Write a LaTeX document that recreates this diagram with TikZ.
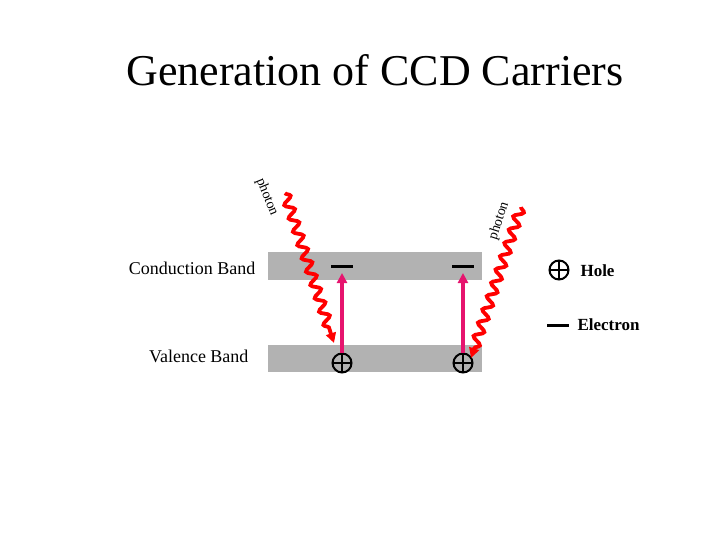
\documentclass[tikz,border=0pt]{standalone}
\usepackage{fontspec}
\setmainfont{Liberation Serif}
\usetikzlibrary{decorations.pathmorphing,arrows.meta}
\tikzset{
  band/.style={draw=none, fill=black!30},
  photon/.style={red, line width=3.8pt, decorate, decoration={snake, amplitude=4.5pt, segment length=14pt, post length=10pt}, -{Triangle[length=10pt,width=10pt]}},
  jump/.style={draw={rgb,255:red,230;green,20;blue,110}, line width=3.5pt, -{Triangle[length=10pt,width=10pt]}},
  hole/.style={circle, draw, line width=2pt, minimum size=19pt, inner sep=0pt, path picture={
      \draw[line width=2pt] (path picture bounding box.north) -- (path picture bounding box.south)
            (path picture bounding box.west) -- (path picture bounding box.east);}},
  lbl/.style={font=\fontsize{18}{20}\selectfont}
}
\begin{document}
\begin{tikzpicture}[x=1pt, y=-1pt]
  \useasboundingbox (0,0) rectangle (720,540);
  \node[font=\fontsize{44}{48}\selectfont] (title) at (375,70) {Generation of CCD Carriers};
  % bands
  \draw[band] (268,252) rectangle (482,280);
  \draw[band] (268,345) rectangle (482,372);
  \node[lbl, anchor=east] (cb) at (259,268) {Conduction Band};
  \node[lbl, anchor=east] (vb) at (252,356) {Valence Band};
  % carriers
  \foreach \x/\n in {342/a, 463/b} {
    \draw[line width=3pt] (\x-11,266) -- (\x+11,266);
    \node[hole] (h\n) at (\x,363) {};
    \coordinate (e\n) at (\x,273);
    \draw[jump] (h\n.north) -- (e\n);
  }
  % photons
  \coordinate (p1s) at (285,193);
  \coordinate (p1e) at (334,343);
  \coordinate (p2s) at (521,207);
  \coordinate (p2e) at (471,358);
  \draw[photon] (p1s) -- (p1e);
  \draw[photon] (p2s) -- (p2e);
  \node[font=\fontsize{14}{14}\selectfont, rotate=-68] (ph1) at (267,197) {photon};
  \node[font=\fontsize{14}{14}\selectfont, rotate=72] (ph2) at (499,221) {photon};
  % legend
  \node[hole] (lh) at (559,270) {};
  \node[anchor=west, font=\bfseries\fontsize{17}{20}\selectfont] (lhole) at (577,271) {Hole};
  \draw[line width=3pt] (547,325) -- (569,325);
  \node[anchor=west, font=\bfseries\fontsize{17}{20}\selectfont] (lel) at (574,325) {Electron};
\end{tikzpicture}
\end{document}
